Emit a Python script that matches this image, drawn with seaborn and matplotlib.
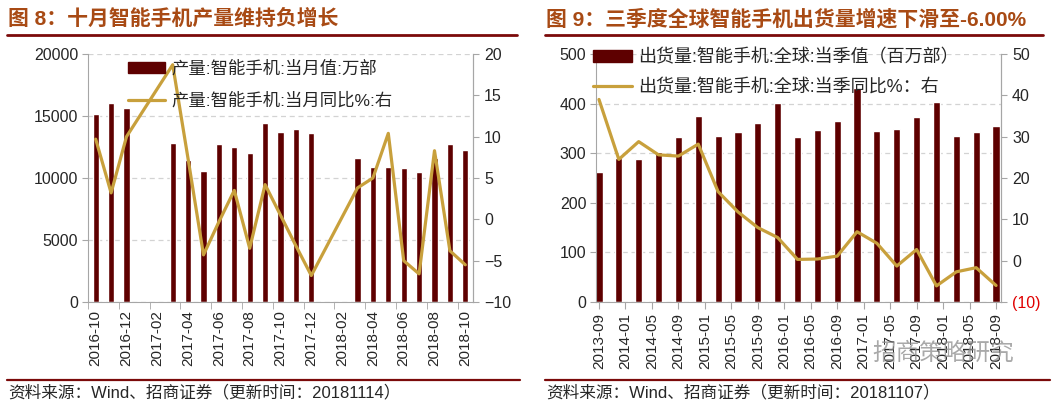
import numpy as np
import pandas as pd
import matplotlib
matplotlib.use("Agg")
import matplotlib.pyplot as plt
from matplotlib.lines import Line2D
from matplotlib.patches import Patch
from matplotlib.ticker import FixedLocator, FuncFormatter
import seaborn as sns

# ─── DATA ─────────────────────────────────────────────────
# Fig 8: monthly smartphone production (10k units) and YoY %
months_l = ["2016-10", "2016-11", "2016-12", "2017-01", "2017-02", "2017-03",
            "2017-04", "2017-05", "2017-06", "2017-07", "2017-08", "2017-09",
            "2017-10", "2017-11", "2017-12", "2018-01", "2018-02", "2018-03",
            "2018-04", "2018-05", "2018-06", "2018-07", "2018-08", "2018-09",
            "2018-10"]
prod_l = [15200, 16050, 15650, None, None, 12850,
          11450, 10540, 12720, 12500, 12040, 14410,
          13680, 13980, 13630, None, None, 11590,
          10870, 10890, 10800, 10510, 11640, 12720,
          12260]
yoy_l = [9.7, 3.2, 10.0, None, None, 18.7,
         7.3, -4.3, -0.3, 3.5, -3.5, 4.2,
         0.5, -3.2, -6.8, None, None, 3.8,
         5.0, 10.4, -5.0, -6.6, 8.3, -3.8,
         -5.5]

# Fig 9: quarterly global smartphone shipments (mn units) and YoY %
quarters_r = ["2013-09", "2013-12", "2014-03", "2014-06", "2014-09", "2014-12",
              "2015-03", "2015-06", "2015-09", "2015-12", "2016-03", "2016-06",
              "2016-09", "2016-12", "2017-03", "2017-06", "2017-09", "2017-12",
              "2018-03", "2018-06", "2018-09"]
ship_r = [262, 290, 288, 302, 333, 375, 335, 343, 360, 401, 333, 347,
          364, 431, 345, 349, 373, 404, 335, 342, 355]
yoy_r = [39.0, 24.5, 28.8, 25.6, 25.3, 28.2, 16.7, 11.8, 8.0, 5.6, 0.3, 0.4,
         1.1, 7.0, 4.2, -1.3, 2.7, -6.1, -2.7, -1.7, -6.0]

# ─── STYLE ────────────────────────────────────────────────
BAR = "#5E0000"
LINE = "#C8A03C"
TITLE = "#A84A14"
RULE = "#7B0A0A"
SPINE = "#A6A6A6"
GRID = "#D3D3D3"

sns.set_style("white")
plt.rcParams["font.family"] = ["Liberation Sans", "Noto Sans CJK SC", "DejaVu Sans"]
plt.rcParams["axes.unicode_minus"] = True

W, H = 1058, 403
fig = plt.figure(figsize=(W / 100, H / 100), dpi=100)


def fx(px):
    return px / W


def fy(py):
    return 1 - py / H


def style_axes(ax, ax2):
    ax.spines["top"].set_visible(False)
    ax2.spines["top"].set_visible(False)
    for s in ["left", "bottom", "right"]:
        ax.spines[s].set_color(SPINE)
        ax2.spines[s].set_color(SPINE)
    ax2.spines["left"].set_visible(False)
    ax2.spines["bottom"].set_visible(False)
    ax.yaxis.grid(True, ls=(0, (4, 3)), color=GRID, lw=0.9)
    ax.xaxis.grid(False)
    ax.set_axisbelow(True)
    ax.tick_params(axis="y", direction="out", length=4, color=SPINE,
                   labelsize=11.5, pad=3, left=True)
    ax2.tick_params(axis="y", direction="out", length=4, color=SPINE,
                    labelsize=11.5, pad=4, right=True)
    ax.set_xlabel("")
    ax.set_ylabel("")
    ax2.set_xlabel("")
    ax2.set_ylabel("")


# ─── LEFT: FIG 8 ──────────────────────────────────────────
df_l = pd.DataFrame({"month": months_l, "prod": prod_l, "yoy": yoy_l})
df_l["prod"] = df_l["prod"].astype(float)
df_l["yoy"] = df_l["yoy"].astype(float)

ax = fig.add_axes([fx(88), fy(302), fx(473 - 88), (302 - 54) / H])
sns.barplot(data=df_l.dropna(subset=["prod"]), x="month", y="prod",
            order=months_l, color=BAR, width=0.4, saturation=1,
            errorbar=None, ax=ax)
ax.set_xlim(-0.5, len(months_l) - 0.5)
ax.set_ylim(0, 20000)
ax.set_yticks(np.arange(0, 20001, 5000))
ax.set_xticks(range(0, len(months_l), 2))
ax.set_xticklabels(months_l[::2], rotation=90, fontsize=11)
ax.xaxis.set_minor_locator(FixedLocator(np.arange(-0.5, len(months_l), 2)))
ax.tick_params(axis="x", which="major", length=0, pad=6)
ax.tick_params(axis="x", which="minor", length=5, color=SPINE, direction="out",
               bottom=True)

ax2 = ax.twinx()
valid = df_l.dropna(subset=["yoy"])
sns.lineplot(x=valid.index, y=valid["yoy"], color=LINE, lw=2.3, ax=ax2)
ax2.set_ylim(-10, 20)
ax2.set_yticks(np.arange(-10, 21, 5))
style_axes(ax, ax2)

ax2.legend(handles=[Patch(color=BAR), Line2D([], [], color=LINE, lw=2.3)],
           labels=["产量:智能手机:当月值:万部", "产量:智能手机:当月同比%:右"],
           loc="upper left", bbox_to_anchor=(0.104, 0.975), frameon=False,
           fontsize=12.5, handlelength=2.15, handleheight=0.6,
           handletextpad=0.35, labelspacing=0.9, borderpad=0, borderaxespad=0)

# ─── RIGHT: FIG 9 ─────────────────────────────────────────
qdates = pd.to_datetime(quarters_r, format="%Y-%m")
start = qdates[0]
mpos = (qdates.year - start.year) * 12 + (qdates.month - start.month)
df_r = pd.DataFrame({"m": mpos, "ship": ship_r, "yoy": yoy_r})

axr = fig.add_axes([fx(596), fy(302), fx(1001 - 596), (302 - 54) / H])
sns.barplot(data=df_r, x="m", y="ship", native_scale=True, color=BAR,
            width=0.36, saturation=1, errorbar=None, ax=axr)
axr.set_xlim(-0.45, mpos[-1] + 0.75)
axr.set_ylim(0, 500)
axr.set_yticks(np.arange(0, 501, 100))

tick_dates = pd.date_range(quarters_r[0], quarters_r[-1], freq="4MS")
tick_pos = (tick_dates.year - start.year) * 12 + (tick_dates.month - start.month)
axr.set_xticks(tick_pos)
axr.set_xticklabels(tick_dates.strftime("%Y-%m"), rotation=90, fontsize=11)
axr.tick_params(axis="x", which="major", length=5, color=SPINE,
                direction="out", pad=3, bottom=True)

axr2 = axr.twinx()
sns.lineplot(data=df_r, x="m", y="yoy", color=LINE, lw=2.3, ax=axr2)
axr2.set_ylim(-10, 50)
axr2.set_yticks(np.arange(-10, 51, 10))
axr2.yaxis.set_major_formatter(
    FuncFormatter(lambda v, p: f"({abs(int(v))})" if v < 0 else f"{int(v)}"))
style_axes(axr, axr2)
for lab in axr2.get_yticklabels():
    if lab.get_text().startswith("("):
        lab.set_color("#E00000")

axr2.legend(handles=[Patch(color=BAR), Line2D([], [], color=LINE, lw=2.3)],
            labels=["出货量:智能手机:全球:当季值（百万部）",
                    "出货量:智能手机:全球:当季同比%：右"],
            loc="upper left", bbox_to_anchor=(-0.008, 1.02), frameon=False,
            fontsize=13, handlelength=2.2, handleheight=0.6,
            handletextpad=0.3, labelspacing=0.68, borderpad=0, borderaxespad=0)

# ─── TITLES, RULES, SOURCES ───────────────────────────────
fig.text(fx(8), fy(19), "图 8：十月智能手机产量维持负增长", fontsize=15,
         fontweight="bold", color=TITLE, va="center", ha="left")
fig.text(fx(546), fy(19), "图 9：三季度全球智能手机出货量增速下滑至-6.00%",
         fontsize=15, fontweight="bold", color=TITLE, va="center", ha="left")

for x0, x1 in [(7, 517), (545, 1043)]:
    fig.add_artist(Line2D([fx(x0), fx(x1)], [fy(35), fy(35)],
                          transform=fig.transFigure, color=RULE, lw=2))
for x0, x1 in [(7, 520), (545, 1050)]:
    fig.add_artist(Line2D([fx(x0), fx(x1)], [fy(380), fy(380)],
                          transform=fig.transFigure, color=RULE, lw=1.6))

fig.text(fx(8), fy(392), "资料来源：Wind、招商证券（更新时间：20181114）",
         fontsize=12, va="center", ha="left")
fig.text(fx(546), fy(392), "资料来源：Wind、招商证券（更新时间：20181107）",
         fontsize=12, va="center", ha="left")

# watermark
fig.text(fx(943), fy(353), "招商策略研究", fontsize=17, color="#8C8C8C",
         alpha=0.75, va="center", ha="center")

fig.savefig("out.png", dpi=100)
